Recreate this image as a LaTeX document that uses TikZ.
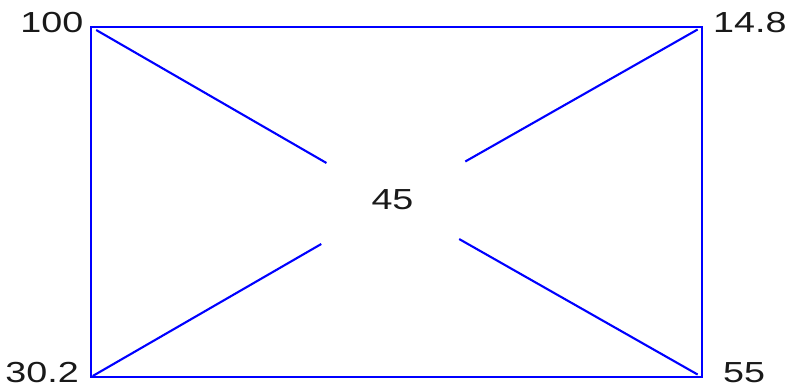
\documentclass[tikz,border=0pt]{standalone}
\usepackage{fontspec}
\setmainfont{Liberation Sans}
\newcommand{\wide}[1]{\scalebox{1.3}[1]{#1}}
\begin{document}
\begin{tikzpicture}[x=1pt,y=-1pt,
  lbl/.style={inner sep=0pt,font=\fontsize{29}{29}\selectfont,text=black!90},
  frame/.style={draw=blue,line width=1.7pt},
  diag/.style={draw=blue,line width=2.1pt}]
\useasboundingbox[fill=white] (0,0) rectangle (785,389);
\coordinate (tl) at (91,27);
\coordinate (tr) at (702,27);
\coordinate (bl) at (91,377);
\coordinate (br) at (702,377);
\coordinate (m) at (394,202);
\draw[frame] (tl) rectangle (br);
\node[lbl,anchor=east] (ltl) at (83.5,22.5) {\wide{100}};
\node[lbl,anchor=west] (ltr) at (713,22.5) {\wide{14.8}};
\node[lbl,anchor=east] (lbl) at (79,372.5) {\wide{30.2}};
\node[lbl,anchor=west] (lbr) at (723,372.5) {\wide{55}};
\node[lbl] (c) at (392.5,199.5) {\wide{45}};
\draw[diag,shorten <=6pt,shorten >=78pt] (tl) -- (m);
\draw[diag,shorten <=5pt,shorten >=82pt] (tr) -- (m);
\draw[diag,shorten <=2pt,shorten >=84pt] (bl) -- (m);
\draw[diag,shorten <=5pt,shorten >=75pt] (br) -- (m);
\end{tikzpicture}
\end{document}
